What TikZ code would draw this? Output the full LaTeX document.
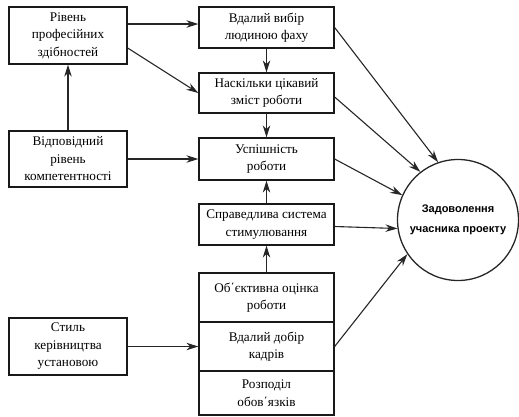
\documentclass[tikz,border=0pt]{standalone}
\usepackage{fontspec}
\setmainfont{Liberation Serif}
\newfontfamily\circfont{Liberation Sans}
\usetikzlibrary{arrows.meta}
\begin{document}
\begin{tikzpicture}[x=1pt,y=-1pt,
  box/.style={draw=black!90,line width=1.3pt,inner sep=0pt,align=center,
    font=\fontsize{13.2}{17.5}\selectfont,text=black},
  lbox/.style={box,minimum width=118pt,minimum height=57pt},
  mbox/.style={box,minimum width=135pt,minimum height=41pt},
  arr/.style={draw=black!85,line width=1.1pt,-{Stealth[length=12pt,width=7.5pt]}}]
\useasboundingbox (0,0) rectangle (519,416);
\node[lbox] (L1) at (68,35.5) {Рівень\\професійних\\здібностей};
\node[lbox,minimum height=56pt] (L2) at (68,159) {Відповідний\\рівень\\компетентності};
\node[lbox] (L3) at (68,346.5) {Стиль\\керівництва\\установою};
\node[mbox] (M1) at (266.5,27.5) {Вдалий вибір\\людиною фаху};
\node[mbox,minimum height=40pt] (M2) at (266.5,93) {Наскільки цікавий\\зміст роботи};
\node[mbox,minimum height=42pt] (M3) at (266.5,159) {Успішність\\роботи};
\node[mbox] (M4) at (266.5,224.5) {Справедлива система\\стимулювання};
\node[mbox,minimum height=49pt] (S1) at (266.5,297.5) {Об΄єктивна оцінка\\роботи};
\node[mbox,minimum height=49pt] (S2) at (266.5,346.5) {Вдалий добір\\кадрів};
\node[mbox,minimum height=44pt] (S3) at (266.5,393) {Розподіл\\обов΄язків};
\node[draw=black!85,line width=1.3pt,circle,minimum size=121pt,inner sep=0pt,align=center,
  font=\circfont\fontsize{11}{20}\selectfont\bfseries] (C) at (458,220) {Задоволення\\учасника проекту};
\draw[arr] ([yshift=11.5pt]L1.east) -- ([yshift=3.5pt]M1.west);
\draw[arr] ([yshift=-12.5pt]L1.east) -- (M2.west);
\draw[arr] (L2.north) -- (L1.south);
\draw[arr] (L2.east) -- (M3.west);
\draw[arr] (L3.east) -- (S2.west);
\draw[arr] (M1.south) -- (M2.north);
\draw[arr] (M2.south) -- (M3.north);
\draw[arr] (M4.north) -- (M3.south);
\draw[arr] (S1.north) -- (M4.south);
\draw[arr] (M1.east) -- (C.109);
\draw[arr] ([yshift=-4pt]M2.east) -- (C.128);
\draw[arr] (M3.east) -- (C.156);
\draw[arr] ([yshift=-2pt]M4.east) -- (C.188);
\draw[arr] (S2.east) -- (C.214);
\end{tikzpicture}
\end{document}
